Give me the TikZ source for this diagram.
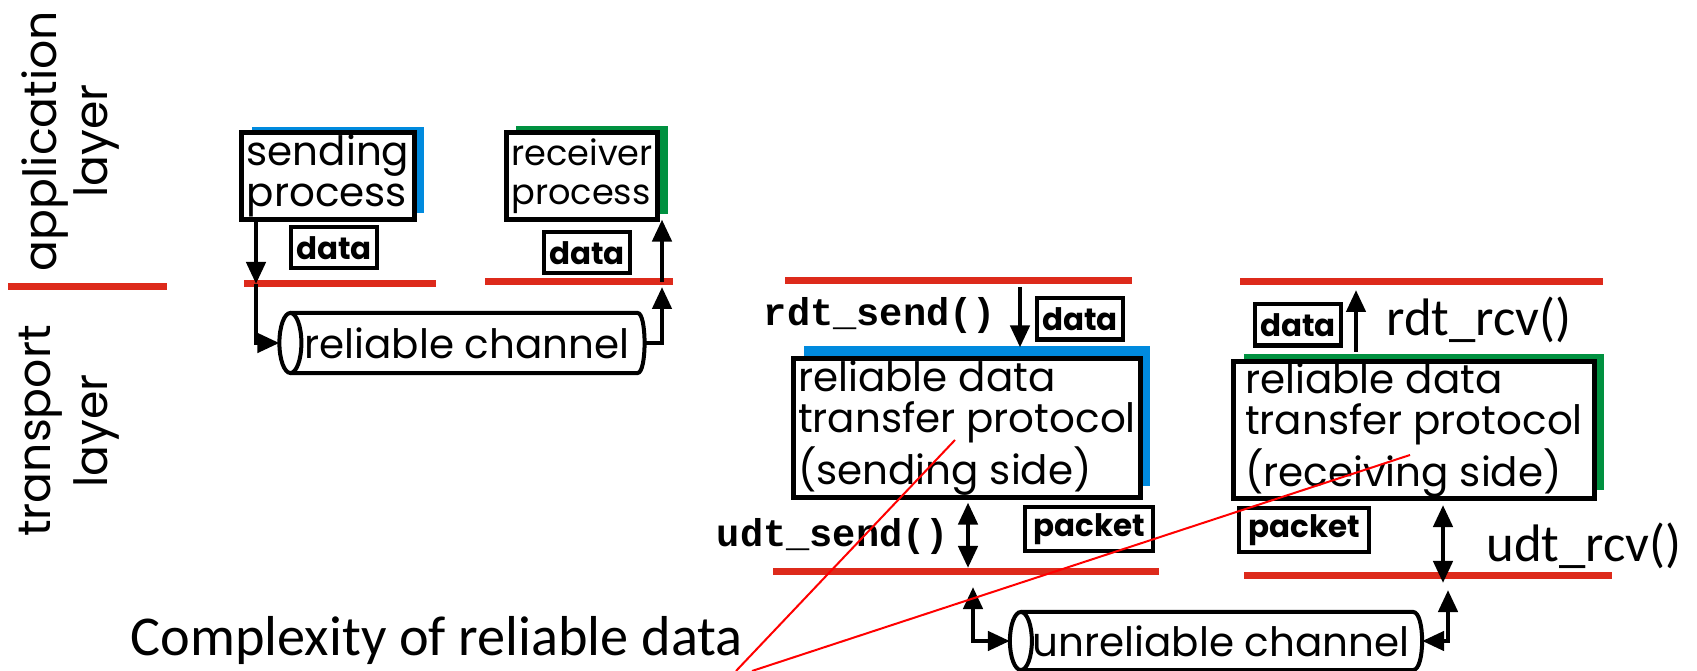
\documentclass[tikz,border=0pt]{standalone}
\usepackage{fontspec}
\setmonofont{Liberation Mono}
\newfontfamily\gothic{Poppins}
\newfontfamily\calib{Carlito}
\usetikzlibrary{arrows.meta,shadows}

\definecolor{layerred}{RGB}{221,42,27}
\definecolor{sendblue}{RGB}{0,138,222}
\definecolor{rcvgreen}{RGB}{0,145,64}

\newcommand{\boxfont}{\gothic\fontsize{11.5}{11.8}\selectfont}
\newcommand{\tagfont}{\gothic\bfseries\fontsize{8.8}{8.8}\selectfont}
\newcommand{\layerfont}{\gothic\fontsize{13}{13}\selectfont}
\newcommand{\callfont}{\ttfamily\bfseries\fontsize{11}{11}\selectfont}

\begin{document}
\begin{tikzpicture}[x=0.01cm,y=-0.01cm,
	>={Triangle[length=0.22cm,width=0.19cm]},
	divider/.style={line width=0.07cm, draw=layerred},
	flow/.style={line width=0.045cm},
	proc/.style={draw, line width=0.05cm, fill=white, align=left, inner sep=0pt, outer sep=0pt, font=\boxfont},
	tag/.style={draw, line width=0.04cm, inner sep=0pt, outer sep=0pt, minimum height=0.41cm, font=\tagfont},
	pipe/.style={line width=0.04cm},
	pipetext/.style={inner sep=0pt, outer sep=0pt, font=\boxfont},
	callout/.style={red, line width=0.02cm},
	bluecast/.style={drop shadow={shadow xshift=0.1cm, shadow yshift=#1, opacity=1, fill=sendblue}},
	greencast/.style={drop shadow={shadow xshift=0.1cm, shadow yshift=#1, opacity=1, fill=rcvgreen}}]

	\useasboundingbox (0,0) rectangle (1697,671);

	% Layers
	\node[font=\layerfont, rotate=90] (app) at (45,141) {application};
	\node[font=\layerfont, rotate=90] (applayer) at (96,141) {layer};
	\node[font=\layerfont, rotate=90] (trans) at (41,431) {transport};
	\node[font=\layerfont, rotate=90] (translayer) at (96,431) {layer};

	% Red dividers
	\draw[divider] (8,287) -- (167,287);
	\draw[divider] (244,284) -- (436,284);
	\draw[divider] (485,282) -- (673,282);
	\draw[divider] (785,281) -- (1132,281);
	\draw[divider] (1240,282) -- (1603,282);
	\draw[divider] (773,572) -- (1159,572);
	\draw[divider] (1244,576) -- (1612,576);

	% Service abstraction
	\node[proc, bluecast=0.06cm, minimum width=1.72cm, minimum height=0.86cm] (sp) at (328,176) {sending\\process};
	\node[proc, greencast=0.06cm, minimum width=1.51cm, minimum height=0.87cm, font=\gothic\fontsize{10}{11}\selectfont] (rp) at (582,176) {receiver\\process};
	\node[tag, minimum width=0.86cm] (d1) at (334,248) {data};
	\node[tag, minimum width=0.85cm] (d2) at (587,253) {data};

	\node[pipetext, minimum width=3.65cm, minimum height=0.6cm] (rch) at (462,343) {\hspace*{0.1cm}reliable channel};
	\draw[pipe] ([shift={(11,0)}]rch.west) ellipse [x radius=0.11cm, y radius=0.3cm];
	\draw[pipe] ([shift={(11,0)}]rch.north west) -- ([shift={(-7,0)}]rch.north east)
		.. controls +(0.093cm,0) and +(0.093cm,0) .. ([shift={(-7,0)}]rch.south east)
		-- ([shift={(11,0)}]rch.south west);

	\coordinate (sdrop) at (256,284);
	\coordinate (rrise) at (662,287);
	\coordinate (rtop) at (662,282);
	\draw[flow,->] (sp.south -| sdrop) -- (sdrop);
	\draw[flow,->] (sdrop) |- (rch.west);
	\draw[flow,->] (rch.east) -| (rrise);
	\draw[flow,->] (rtop) -- (rp.south -| rtop);

	% Sending side
	\node[font=\callfont] (rsend) at (880,316) {rdt\_send()};
	\node[tag, minimum width=0.86cm] (d3) at (1080,319) {data};
	\node[proc, bluecast=0.12cm, minimum width=3.46cm, minimum height=1.39cm] (ss) at (967,428) {reliable data\\transfer protocol\\(sending side)};
	\node[font=\callfont] (usend) at (833,537) {udt\_send()};
	\node[tag, minimum width=1.28cm, minimum height=0.43cm] (pk1) at (1089,529) {packet};

	\coordinate (sdown) at (1020,287);
	\coordinate (sgate) at (968,572);
	\coordinate (sendlow) at (973,587);
	\draw[flow,->] (sdown) -- (ss.north -| sdown) [shorten >=0.11cm];
	\draw[flow,<->,shorten <=0.05cm,shorten >=0.04cm] (ss.south -| sgate) -- (sgate);

	% Receiving side
	\node[tag, minimum width=0.85cm] (d4) at (1298,325) {data};
	\node[font=\calib\fontsize{15}{15}\selectfont] (rrcv) at (1479,320) {rdt\_rcv()};
	\node[proc, greencast=0.08cm, minimum width=3.6cm, minimum height=1.36cm] (rs) at (1414,430) {reliable data\\transfer protocol\\(receiving side)};
	\node[tag, minimum width=1.3cm, minimum height=0.44cm] (pk2) at (1304,530) {packet};
	\node[font=\calib\fontsize{15}{15}\selectfont] (urcv) at (1584,546) {udt\_rcv()};

	\coordinate (rup) at (1356,290);
	\coordinate (rgate) at (1443,583);
	\coordinate (rcvlow) at (1448,590);
	\draw[flow,->,shorten <=0.1cm] (rs.north -| rup) -- (rup);
	\draw[flow,<->,shorten <=0.07cm] (rs.south -| rgate) -- (rgate);

	% Unreliable channel
	\node[pipetext, minimum width=4.12cm, minimum height=0.58cm] (uch) at (1216,641) {\hspace*{0.1cm}unreliable channel};
	\draw[pipe] ([shift={(11,0)}]uch.west) ellipse [x radius=0.11cm, y radius=0.29cm];
	\draw[pipe] ([shift={(11,0)}]uch.north west) -- ([shift={(-9,0)}]uch.north east)
		.. controls +(0.12cm,0) and +(0.12cm,0) .. ([shift={(-9,0)}]uch.south east)
		-- ([shift={(11,0)}]uch.south west);
	\draw[flow,<->] (sendlow) |- (uch.west);
	\draw[flow,<->] (rcvlow) |- (uch.east);

	% Complexity
	\node[font=\calib\fontsize{16}{16}\selectfont, anchor=base west, inner sep=0pt] (cplx) at (130,656) {Complexity of reliable data};
	\coordinate (cpa) at (736,671);
	\coordinate (cpb) at (752,671);
	\coordinate (stip) at (955,440);
	\coordinate (rtip) at (1410,455);
	\draw[callout] (cpa) -- (stip);
	\draw[callout] (cpb) -- (rtip);

\end{tikzpicture}
\end{document}
